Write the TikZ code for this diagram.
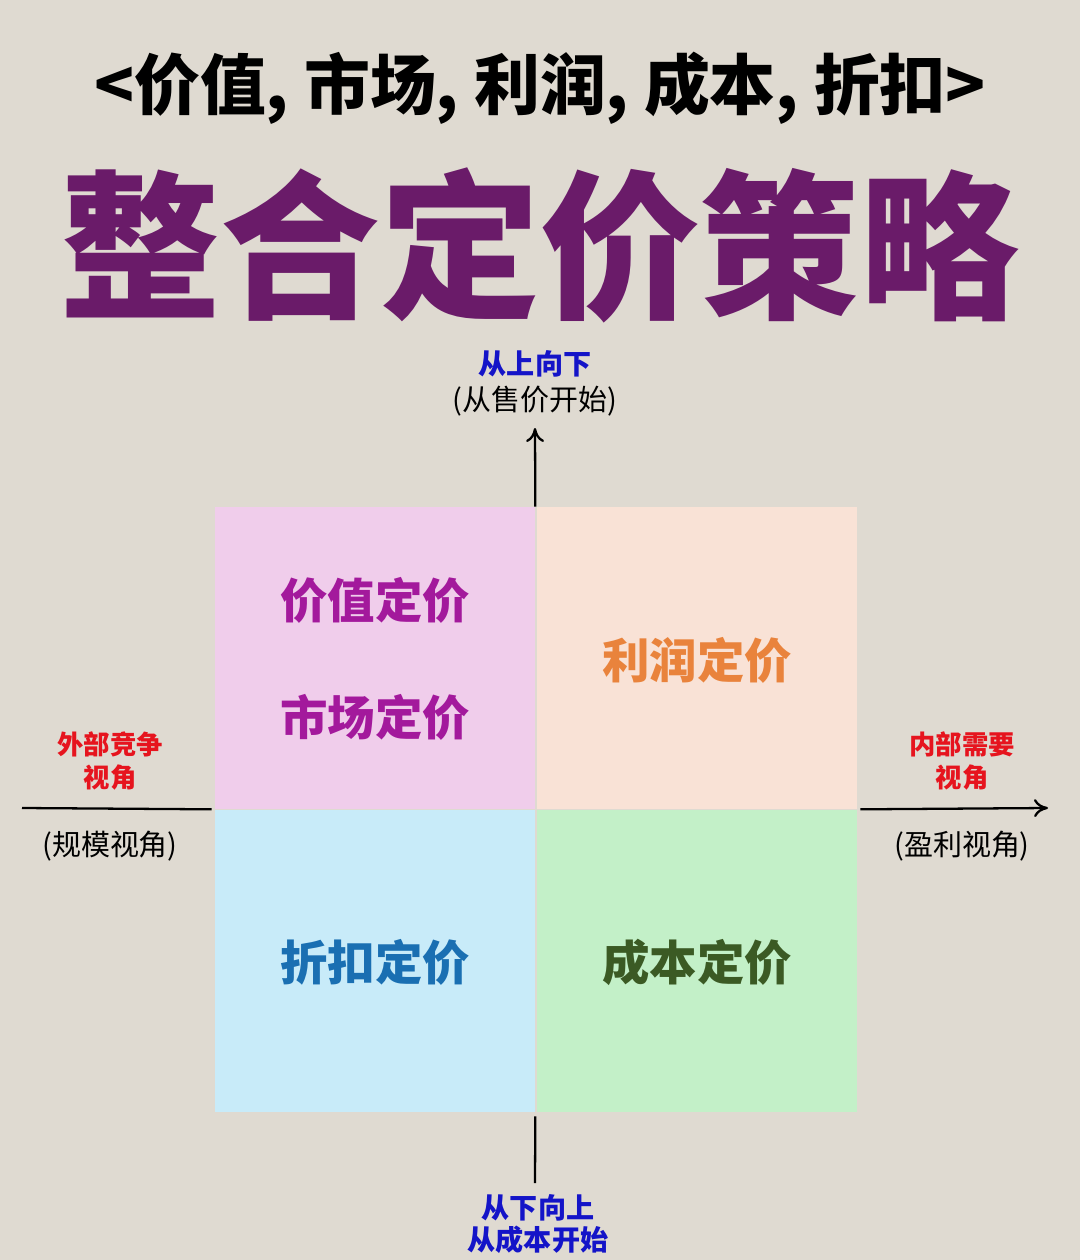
\documentclass[tikz,border=0pt]{standalone}
\usepackage{fontspec}
\setmainfont{Noto Sans CJK SC}
\usetikzlibrary{arrows.meta,positioning}
\definecolor{bgcol}{HTML}{DFDAD1}
\definecolor{titlepurple}{HTML}{6A1B69}
\definecolor{tlfill}{HTML}{F0CDEB}
\definecolor{trfill}{HTML}{F9E2D6}
\definecolor{blfill}{HTML}{C8EBF9}
\definecolor{brfill}{HTML}{C3F0C8}
\definecolor{valcol}{HTML}{A3199C}
\definecolor{profcol}{HTML}{E9833C}
\definecolor{disccol}{HTML}{1A6FB2}
\definecolor{costcol}{HTML}{3B5A24}
\definecolor{axisblue}{HTML}{1414C8}
\definecolor{axisred}{HTML}{E6141E}
\tikzset{
  quad/.style={minimum width=6.4cm, minimum height=6.04cm, inner sep=0pt},
  quadtext/.style={font=\fontsize{27}{30}\selectfont\bfseries},
  sidelabel/.style={font=\fontsize{15}{19}\selectfont\bfseries, text=axisred, align=center},
  sidenote/.style={font=\fontsize{16.5}{19}\selectfont, text=black},
  endlabel/.style={font=\fontsize{16}{18}\selectfont\bfseries, text=axisblue, align=center, inner sep=1pt},
  axis/.style={line width=1.3pt, -{To[length=2.8mm, width=3.6mm]}}
}
\begin{document}
\begin{tikzpicture}[x=0.02cm, y=-0.02cm]
    \fill[bgcol] (0,0) rectangle (1080,1260);
    \useasboundingbox (0,0) rectangle (1080,1260);

    \node[font=\fontsize{37.5}{40}\selectfont\bfseries] (head) at (540,88) {<价值, 市场, 利润, 成本, 折扣>};
    \node[font=\fontsize{91}{96}\selectfont\bfseries, text=titlepurple] (title) at (540,245) {整合定价策略};

    \node[quad, fill=tlfill] (tl) at (375,658) {};
    \node[quad, fill=trfill] (tr) at (697,658) {};
    \node[quad, fill=blfill] (bl) at (375,961) {};
    \node[quad, fill=brfill] (br) at (697,961) {};

    \node[quadtext, text=valcol] (value) at (375,600) {价值定价};
    \node[quadtext, text=valcol] (market) at (375,717) {市场定价};
    \node[quadtext, text=profcol] (profit) at (697,660) {利润定价};
    \node[quadtext, text=disccol] (discount) at (375,962) {折扣定价};
    \node[quadtext, text=costcol] (cost) at (697,962) {成本定价};

    \node[sidenote] (topnote) at (535,401) {(从售价开始)};
    \node[endlabel] (toplabel) [above=0pt of topnote] {从上向下};
    \node[endlabel, align=center] (bottomlabel) at (538,1224) {从下向上\\从成本开始};

    \node[sidelabel] (extlabel) at (110,761) {外部竞争\\视角};
    \node[sidenote] (extnote) at (110,846) {(规模视角)};
    \node[sidelabel] (intlabel) at (962,761) {内部需要\\视角};
    \node[sidenote] (intnote) at (962,846) {(盈利视角)};

    \coordinate (leftend) at (22,808);
    \coordinate (rightend) at (1048,808);
    \coordinate (topend) at (535,428);
    \coordinate (bottomend) at (535,1183);

    \draw[axis] (tl.north east) -- (topend);
    \draw[line width=1.3pt] (bl.south east) ++(0,4) -- (bottomend);
    \draw[line width=1.3pt] (leftend) -- ([xshift=-0.06cm]tl.south west);
    \draw[axis] ([xshift=0.06cm]tr.south east) -- (rightend);
\end{tikzpicture}
\end{document}
